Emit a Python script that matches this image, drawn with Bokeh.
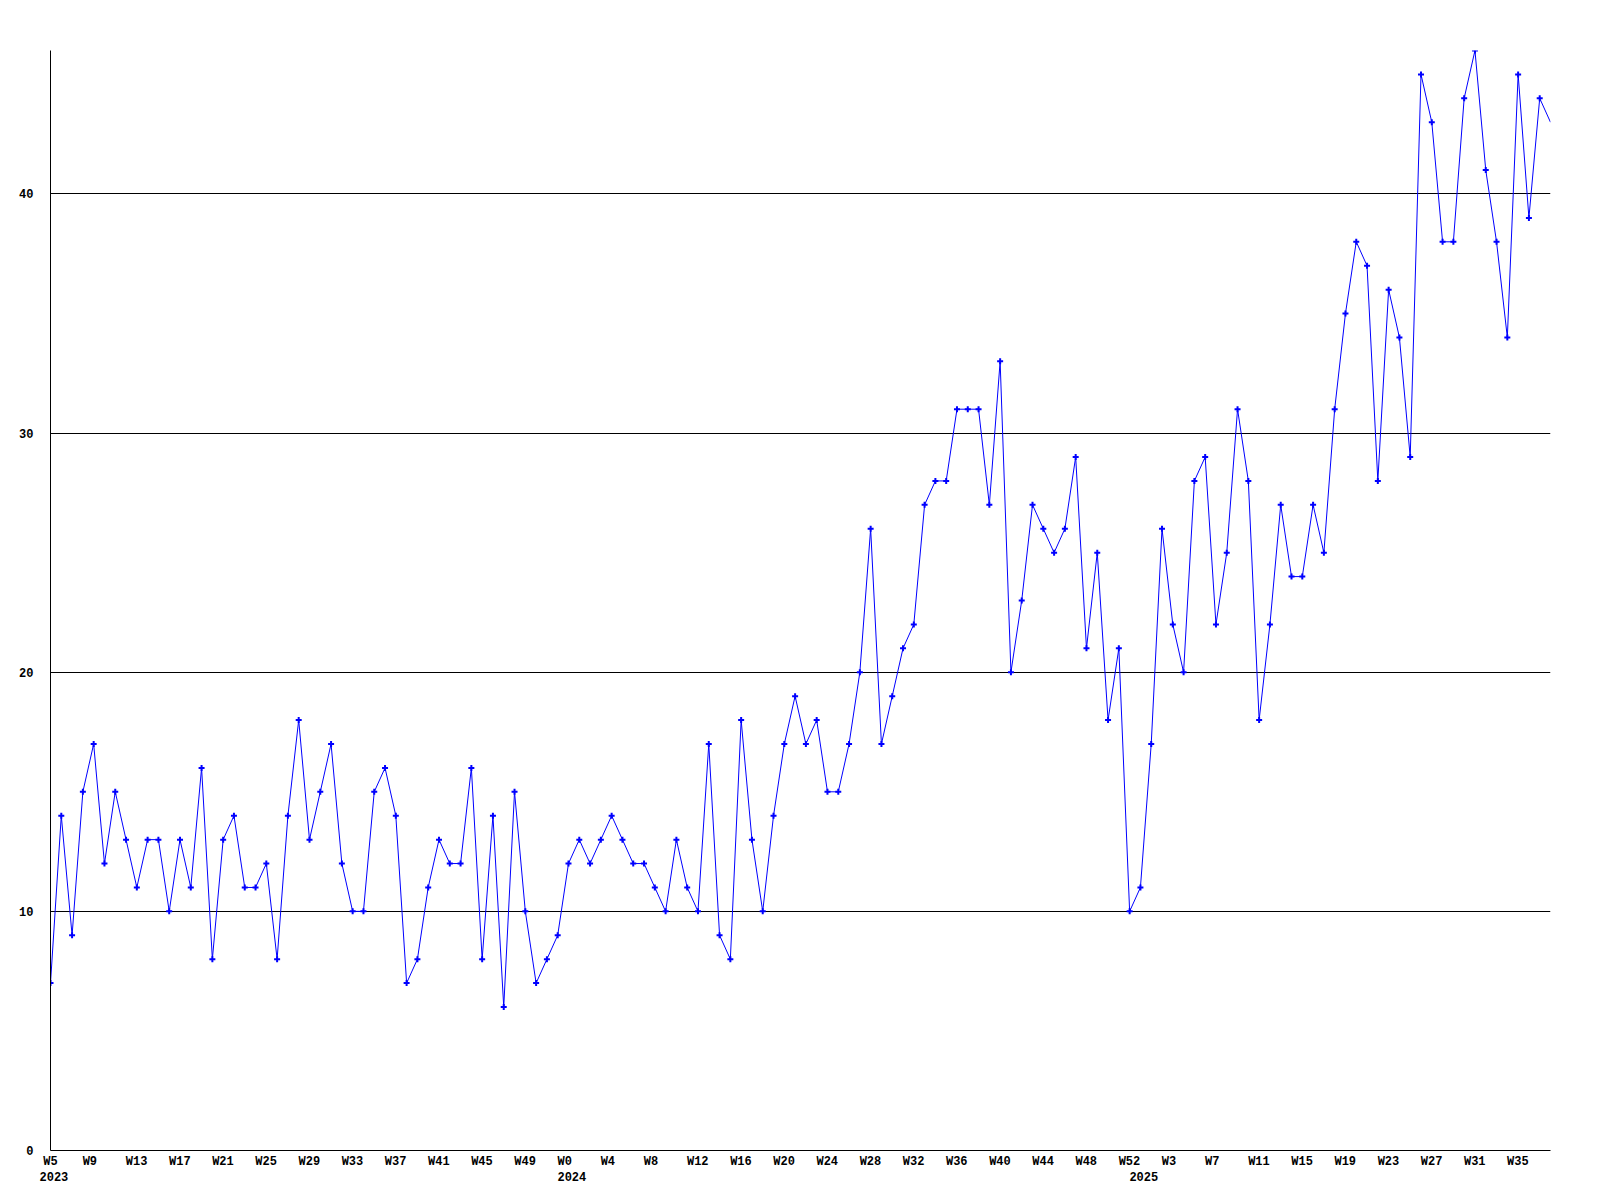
from bokeh.plotting import figure
from bokeh.models import FixedTicker, LinearAxis, Range1d, Grid
from bokeh.embed import file_html
from bokeh.resources import INLINE

# ---- data -------------------------------------------------------------
years = ["2023", "2024", "2025"]
weeks_2023 = list(range(5, 53))
weeks_2024 = list(range(0, 53))
weeks_2025 = list(range(0, 39))

values_2023 = [7, 14, 9, 15, 17, 12, 15, 13, 11, 13, 13, 10, 13, 11, 16, 8,
               13, 14, 11, 11, 12, 8, 14, 18, 13, 15, 17, 12, 10, 10, 15, 16,
               14, 7, 8, 11, 13, 12, 12, 16, 8, 14, 6, 15, 10, 7, 8, 9]
values_2024 = [12, 13, 12, 13, 14, 13, 12, 12, 11, 10, 13, 11, 10, 17, 9, 8,
               18, 13, 10, 14, 17, 19, 17, 18, 15, 15, 17, 20, 26, 17, 19, 21,
               22, 27, 28, 28, 31, 31, 31, 27, 33, 20, 23, 27, 26, 25, 26, 29,
               21, 25, 18, 21, 10]
values_2025 = [11, 17, 26, 22, 20, 28, 29, 22, 25, 31, 28, 18, 22, 27, 24, 24,
               27, 25, 31, 35, 38, 37, 28, 36, 34, 29, 45, 43, 38, 38, 44, 46,
               41, 38, 34, 45, 39, 44, 43]

y_ticks = [0, 10, 20, 30, 40]
y_max = 46
label_every = 4

# ---- derived ----------------------------------------------------------
week_nums = weeks_2023 + weeks_2024 + weeks_2025
values = values_2023 + values_2024 + values_2025
x = list(range(len(values)))
year_start_idx = [0, len(weeks_2023), len(weeks_2023) + len(weeks_2024)]

FONT = "Liberation Mono"
FONT_SIZE = "12px"
FRAME_W, FRAME_H = 1500, 1100
CHAR_PX = 7.2
LEFT_PX = 11.0
step_px = FRAME_W / (len(values) - 1)


def label_pos(i, text):
    # labels in the original are left-aligned ~11px before the point
    return round(max(0.0, i + (len(text) * CHAR_PX / 2 - LEFT_PX) / step_px), 4)


week_ticks = {}
for i in range(0, len(values), label_every):
    t = f"W{week_nums[i]}"
    week_ticks[label_pos(i, t)] = t
year_ticks = {label_pos(i, y): y for i, y in zip(year_start_idx, years)}

# ---- figure -----------------------------------------------------------
p = figure(frame_width=FRAME_W, frame_height=FRAME_H,
           x_range=Range1d(0, len(values) - 1), y_range=Range1d(0, y_max),
           x_axis_type=None, y_axis_type=None,
           output_backend="svg", toolbar_location=None,
           min_border_left=50, min_border_top=50,
           min_border_right=30, min_border_bottom=30,
           background_fill_color="white", border_fill_color="white")
p.outline_line_color = None


def style_axis(ax, standoff):
    ax.axis_line_color = "black"
    ax.axis_line_width = 1
    ax.major_tick_in = 0
    ax.major_tick_out = 0
    ax.minor_tick_in = 0
    ax.minor_tick_out = 0
    ax.major_tick_line_color = None
    ax.minor_tick_line_color = None
    ax.major_label_text_font = FONT
    ax.major_label_text_font_size = FONT_SIZE
    ax.major_label_text_font_style = "bold"
    ax.major_label_text_color = "black"
    ax.major_label_standoff = standoff


xaxis = LinearAxis(ticker=FixedTicker(ticks=list(week_ticks.keys())),
                   major_label_overrides=week_ticks)
style_axis(xaxis, 4)
p.add_layout(xaxis, "below")

yearaxis = LinearAxis(ticker=FixedTicker(ticks=list(year_ticks.keys())),
                      major_label_overrides=year_ticks)
style_axis(yearaxis, 0)
yearaxis.axis_line_color = None
p.add_layout(yearaxis, "below")

yaxis = LinearAxis(ticker=FixedTicker(ticks=y_ticks))
style_axis(yaxis, 17)
p.add_layout(yaxis, "left")

p.add_layout(Grid(dimension=1, ticker=yaxis.ticker,
                  grid_line_color="black", grid_line_width=1))

p.line(x, values, line_color="#0000ff", line_width=1)
p.scatter(x[:-1], values[:-1], marker="cross", size=6, line_width=2,
          line_color="#0000ff")

open("out.html", "w").write(file_html(p, INLINE))
